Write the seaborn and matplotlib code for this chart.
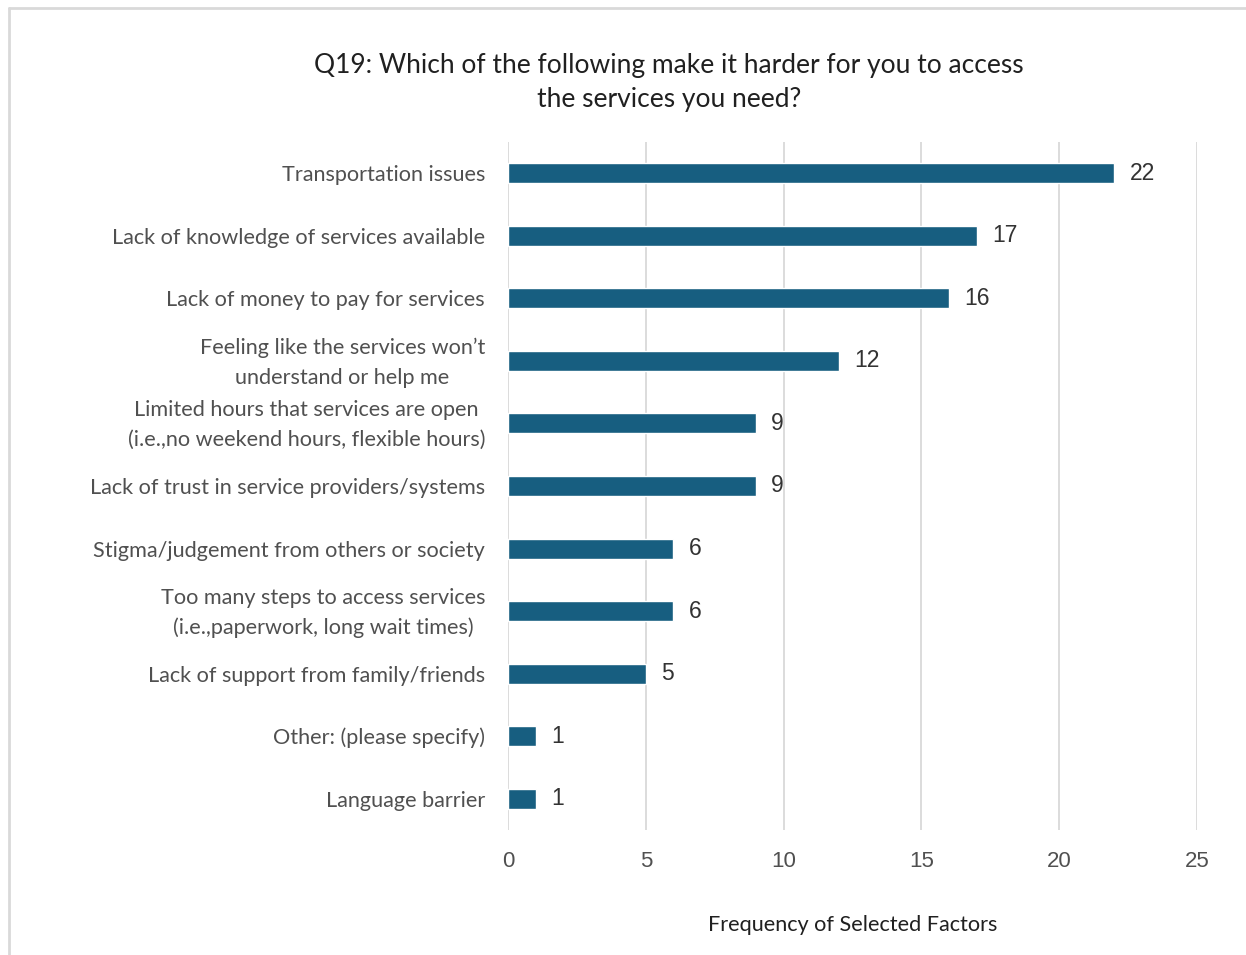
import matplotlib
matplotlib.use("Agg")
import matplotlib.pyplot as plt
import matplotlib.transforms as mtransforms
import seaborn as sns
import pandas as pd
from matplotlib.lines import Line2D

categories = [
    "Transportation issues",
    "Lack of knowledge of services available",
    "Lack of money to pay for services",
    "Feeling like the services won\u2019t\nunderstand or help me",
    "Limited hours that services are open\n(i.e.,no weekend hours, flexible hours)",
    "Lack of trust in service providers/systems",
    "Stigma/judgement from others or society",
    "Too many steps to access services\n(i.e.,paperwork, long wait times)",
    "Lack of support from family/friends",
    "Other: (please specify)",
    "Language barrier",
]
counts = [22, 17, 16, 12, 9, 9, 6, 6, 5, 1, 1]
x_ticks = [0, 5, 10, 15, 20, 25]

title = "Q19: Which of the following make it harder for you to access\nthe services you need?"
x_label = "Frequency of Selected Factors"

df = pd.DataFrame({"factor": categories, "count": counts})

sns.set_theme(style="white")
plt.rcParams["font.family"] = ["Lato", "DejaVu Sans"]

bar_color = "#175e80"
label_color = "#505050"

fig = plt.figure(figsize=(12.46, 9.55), dpi=100)
ax = fig.add_axes([0.4077, 0.1309, 0.5530, 0.7204])

sns.barplot(data=df, x="count", y="factor", color=bar_color, width=0.32,
            saturation=1, ax=ax, zorder=3)

ax.set_xlim(0, 25)
ax.set_xticks(x_ticks)
ax.set_xticklabels([str(t) for t in x_ticks], fontfamily="Liberation Sans",
                   fontsize=16, color="#505050")
ax.tick_params(axis="x", length=0, pad=15)
ax.tick_params(axis="y", length=0, pad=16.5)

# two-line labels sit a little higher so their block centres on the bar
lift = mtransforms.ScaledTranslation(0, 0.05, fig.dpi_scale_trans)
for lbl in ax.get_yticklabels():
    lbl.set_fontsize(15.6)
    lbl.set_color(label_color)
    lbl.set_linespacing(1.6)
    lbl.set_horizontalalignment("right")
    lbl.set_multialignment("center")
    if "\n" in lbl.get_text():
        lbl.set_transform(lbl.get_transform() + lift)

ax.grid(axis="x", color="#d9d9d9", linewidth=1.3, zorder=0)
ax.grid(axis="y", visible=False)
for s in ax.spines.values():
    s.set_visible(False)

ax.set_ylabel("")
ax.set_xlabel(x_label, fontsize=15.6, color="#202020", labelpad=31)

for cont in ax.containers:
    ax.bar_label(cont, labels=[str(v) for v in counts], padding=11,
                 fontfamily="Liberation Sans", fontsize=16.5, color="#333333")

fig.text(0.537, 1 - 82.5 / 955, title, ha="center", va="center", fontsize=19,
         color="#202020", linespacing=1.45)

# frame edges along the top and left of the figure
fig.add_artist(Line2D([9 / 1246, 1.0], [1 - 8 / 955, 1 - 8 / 955],
                      transform=fig.transFigure, color="#d9d9d9", linewidth=2))
fig.add_artist(Line2D([9 / 1246, 9 / 1246], [0.0, 1 - 8 / 955],
                      transform=fig.transFigure, color="#d9d9d9", linewidth=2))

fig.savefig("out.png", dpi=100)
